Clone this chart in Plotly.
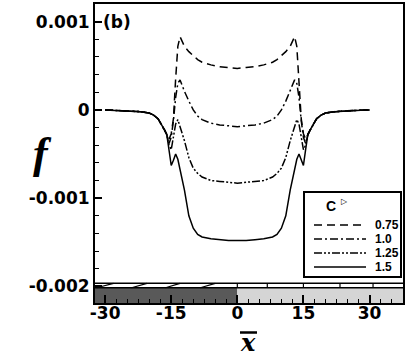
import plotly.graph_objects as go

# x positions (x-bar) shared by all curves
x_bar = [-30, -28, -26, -24, -22, -20, -19, -18, -17.5, -17, -16.5, -16, -15.5, -15, -14.5,
         -14, -13.5, -13, -12.5, -12, -11, -10, -9, -8, -6, -4, -2, 0,
         2, 4, 6, 8, 9, 10, 11, 12, 12.5, 13, 13.5, 14, 14.5, 15, 15.5, 16, 16.5,
         17, 17.5, 18, 19, 20, 22, 24, 26, 28, 30]

f_075 = [0.0, -0.000003, -0.000007, -0.000012, -0.00002, -0.000035, -0.00006, -0.0001, -0.00014,
         -0.00019, -0.00023, -0.00028, -0.00033, -0.00027, -0.0001, 0.00035, 0.00072, 0.00083,
         0.00077, 0.00072, 0.00066, 0.00061, 0.00057, 0.00054, 0.00051, 0.00049, 0.00048, 0.00047,
         0.00048, 0.00049, 0.00051, 0.00054, 0.00057, 0.00061, 0.00066, 0.00072, 0.00077, 0.00083,
         0.00072, 0.00035, -0.0001, -0.00027, -0.00033, -0.00028, -0.00023, -0.00019, -0.00014,
         -0.0001, -0.00006, -0.000035, -0.00002, -0.000012, -0.000007, -0.000003, 0.0]

f_100 = [0.0, -0.000003, -0.000007, -0.000012, -0.00002, -0.000035, -0.00006, -0.0001, -0.00014,
         -0.00019, -0.00023, -0.00028, -0.00038, -0.00031, -0.00012, 0.00014, 0.0003, 0.00034,
         0.00027, 0.00021, 0.0001, 0.0, -0.00007, -0.00011, -0.00015, -0.00017, -0.00018, -0.00019,
         -0.00018, -0.00017, -0.00015, -0.00011, -0.00007, 0.0, 0.0001, 0.00021, 0.00027, 0.00034,
         0.0003, 0.00014, -0.00012, -0.00031, -0.00038, -0.00028, -0.00023, -0.00019, -0.00014,
         -0.0001, -0.00006, -0.000035, -0.00002, -0.000012, -0.000007, -0.000003, 0.0]

f_125 = [0.0, -0.000003, -0.000007, -0.000012, -0.00002, -0.000035, -0.00006, -0.0001, -0.00014,
         -0.00019, -0.00023, -0.00028, -0.0004, -0.00045, -0.0003, -0.00016, -0.00011, -0.00018,
         -0.00027, -0.00035, -0.00054, -0.00066, -0.00072, -0.00076, -0.0008, -0.00081, -0.00082, -0.00083,
         -0.00082, -0.00081, -0.0008, -0.00076, -0.00072, -0.00066, -0.00054, -0.00035, -0.00027, -0.00018,
         -0.00011, -0.00016, -0.0003, -0.00045, -0.0004, -0.00028, -0.00023, -0.00019, -0.00014,
         -0.0001, -0.00006, -0.000035, -0.00002, -0.000012, -0.000007, -0.000003, 0.0]

f_150 = [0.0, -0.000003, -0.000007, -0.000012, -0.00002, -0.000035, -0.00006, -0.0001, -0.00014,
         -0.00019, -0.00023, -0.00028, -0.00045, -0.00063, -0.00057, -0.0005, -0.00056, -0.00068,
         -0.0008, -0.00091, -0.0012, -0.00134, -0.00141, -0.00144, -0.00146, -0.00147, -0.00148, -0.00148,
         -0.00148, -0.00147, -0.00146, -0.00144, -0.00141, -0.00134, -0.0012, -0.00091, -0.0008, -0.00068,
         -0.00056, -0.0005, -0.00057, -0.00063, -0.00045, -0.00028, -0.00023, -0.00019, -0.00014,
         -0.0001, -0.00006, -0.000035, -0.00002, -0.000012, -0.000007, -0.000003, 0.0]

c_labels = ["0.75", "1.0", "1.25", "1.5"]
x_ticks = [-30, -15, 0, 15, 30]
x_ticktext = ["-30", "-15", "0", "15", "30"]
y_ticks = [0.001, 0, -0.001, -0.002]
y_ticktext = ["0.001", "0", "-0.001", "-0.002"]

X_RANGE = [-32.3, 37.6]
Y_RANGE = [-0.002188, 0.0012]

dashes = ["8px,5px", "8px,3px,2px,3px", "8px,2px,2px,2px,2px,2px", "solid"]
series = [f_075, f_100, f_125, f_150]

fig = go.Figure()
for lab, ys, d in zip(c_labels, series, dashes):
    fig.add_trace(go.Scatter(x=x_bar, y=ys, mode="lines", name=lab,
                             line=dict(color="black", width=1.5, dash=d)))

shapes = []
# wall / substrate band at the bottom
y_strip_lo, y_strip_hi = -0.002015, -0.001965
shapes.append(dict(type="rect", xref="x", yref="y", x0=X_RANGE[0], x1=0, y0=Y_RANGE[0], y1=y_strip_lo,
                   fillcolor="#595959", line_width=0, layer="below"))
shapes.append(dict(type="rect", xref="x", yref="y", x0=0, x1=X_RANGE[1], y0=Y_RANGE[0], y1=y_strip_lo,
                   fillcolor="#d5d5d5", line_width=0, layer="below"))
for yy in (y_strip_lo, y_strip_hi):
    shapes.append(dict(type="line", xref="x", yref="y", x0=X_RANGE[0], x1=X_RANGE[1], y0=yy, y1=yy,
                       line=dict(color="black", width=1.5)))
for xa, xb in [(-31.9, -28.1), (-24.0, -20.5), (-16.3, -13.0), (-8.4, -5.0)]:
    shapes.append(dict(type="line", xref="x", yref="y", x0=xa, x1=xb, y0=y_strip_lo, y1=y_strip_hi,
                       line=dict(color="black", width=1.2)))
for xv in [0, 6.8, 15, 23.3, 30.8]:
    shapes.append(dict(type="line", xref="x", yref="y", x0=xv, x1=xv, y0=y_strip_lo, y1=y_strip_hi,
                       line=dict(color="black", width=1.2)))

# hand-made legend box
def px(xp):
    return (xp - 95) / 308

def py(yp):
    return (303 - yp) / 299

def note(x, y, text, font, xanchor="center"):
    return dict(xref="paper", yref="paper", x=x, y=y, text=text, showarrow=False,
                xanchor=xanchor, yanchor="middle", font=font)

shapes.append(dict(type="rect", xref="paper", yref="paper", x0=px(304), x1=px(401), y0=py(277), y1=py(192),
                   fillcolor="white", line=dict(color="black", width=2)))
annotations = []
legfont = dict(family="Liberation Sans", size=12, color="black", weight="bold")
for i, (lab, d) in enumerate(zip(c_labels, dashes)):
    yy = py(225 + 14 * i)
    shapes.append(dict(type="line", xref="paper", yref="paper", x0=px(314), x1=px(366), y0=yy, y1=yy,
                       line=dict(color="black", width=1.5, dash=d)))
    annotations.append(note(px(373), yy, lab, legfont, xanchor="left"))
annotations.append(note(px(331), py(206), "C",
                        dict(family="Liberation Sans", size=14, color="black", weight="bold")))
annotations.append(note(px(344), py(201), "▷", dict(family="DejaVu Sans", size=8, color="black")))
annotations.append(note(px(101), py(22), "(b)",
                        dict(family="DejaVu Sans", size=17, color="black", weight="bold"), xanchor="left"))
# axis titles
annotations.append(note(px(42), py(153), "<i>f</i>",
                        dict(family="Liberation Serif", size=44, color="black", weight="bold")))
annotations.append(note(px(248), py(342), "<i>x</i>",
                        dict(family="DejaVu Serif", size=24, color="black", weight="bold")))
shapes.append(dict(type="line", xref="paper", yref="paper", x0=px(240), x1=px(257), y0=py(332.5), y1=py(332.5),
                   line=dict(color="black", width=2.5)))

tickfont = dict(family="DejaVu Sans", size=17, color="black", weight="bold")
fig.update_layout(
    width=407, height=359,
    margin=dict(l=95, r=4, t=4, b=56),
    plot_bgcolor="white", paper_bgcolor="white",
    showlegend=False,
    shapes=shapes, annotations=annotations,
    xaxis=dict(range=X_RANGE, showgrid=False, zeroline=False, automargin=False,
               showline=True, linecolor="black", linewidth=2, mirror=True,
               tickmode="array", tickvals=x_ticks, ticktext=x_ticktext,
               ticks="inside", ticklen=8, tickwidth=1.5, tickcolor="black", ticklabelstandoff=-6,
               minor=dict(tick0=0, dtick=2.5, ticks="inside", ticklen=4, tickwidth=1, tickcolor="black"),
               tickfont=tickfont),
    yaxis=dict(range=Y_RANGE, showgrid=False, zeroline=False, automargin=False,
               showline=True, linecolor="black", linewidth=2, mirror=True,
               tickmode="array", tickvals=y_ticks, ticktext=y_ticktext,
               ticks="inside", ticklen=7, tickwidth=1.5, tickcolor="black",
               minor=dict(tick0=0, dtick=0.0002, ticks="inside", ticklen=4, tickwidth=1, tickcolor="black"),
               tickfont=tickfont),
)

# page body has a default 8px margin; drop it so the figure sits at the window corner
fig.write_html("out.html", config={"displayModeBar": False},
               post_script="document.body.style.margin='0';")
